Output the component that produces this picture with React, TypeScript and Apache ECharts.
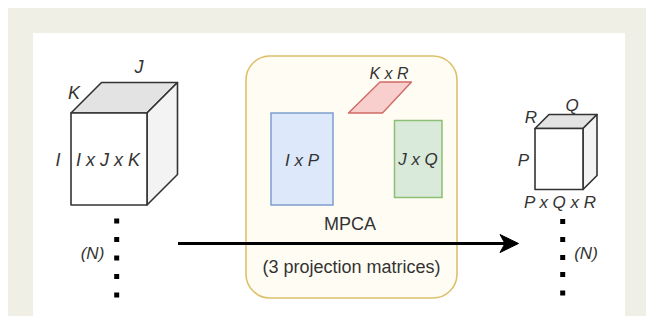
import React, { useEffect, useRef } from "react";
import * as echarts from "echarts";

const inputDims = ["I", "J", "K"];
const outputDims = ["P", "Q", "R"];
const inputLabel = "I x J x K";
const outputLabel = "P x Q x R";
const matrixLabels = ["I x P", "J x Q", "K x R"];
const boxTitle = "MPCA";
const boxSubtitle = "(3 projection matrices)";
const sampleLabel = "(N)";

const FONT = "'Liberation Sans', Arial, Helvetica, sans-serif";
const TXT = "#333333";

function txt(text: string, x: number, y: number, size: number, italic = true, color = TXT) {
  return {
    type: "text",
    x,
    y,
    z: 20,
    style: {
      text,
      fill: color,
      fontSize: size,
      fontFamily: FONT,
      fontStyle: italic ? "italic" : "normal",
      textAlign: "center",
      textVerticalAlign: "middle",
      align: "center",
      verticalAlign: "middle",
    },
  };
}

function cube(x0: number, y0: number, x1: number, y1: number, d: number) {
  const stroke = { stroke: "#333333", lineWidth: 1.6, lineJoin: "round" };
  return [
    {
      type: "polygon",
      z: 10,
      shape: { points: [[x0, y0], [x0 + d, y0 - d], [x1 + d, y0 - d], [x1, y0]] },
      style: { fill: "#e3e3e3", ...stroke },
    },
    {
      type: "polygon",
      z: 10,
      shape: { points: [[x1, y0], [x1 + d, y0 - d], [x1 + d, y1 - d], [x1, y1]] },
      style: { fill: "#f3f3f3", ...stroke },
    },
    {
      type: "rect",
      z: 11,
      shape: { x: x0, y: y0, width: x1 - x0, height: y1 - y0 },
      style: { fill: "#ffffff", ...stroke },
    },
  ];
}

function dots(cx: number, ys: number[]) {
  return ys.map((y) => ({
    type: "rect",
    z: 12,
    shape: { x: cx - 2.5, y: y - 2.5, width: 5, height: 5 },
    style: { fill: "#000000" },
  }));
}

export default function App() {
  const ref = useRef<HTMLDivElement>(null);
  useEffect(() => {
    document.body.style.margin = "0";
    if (!ref.current) return;
    const chart = echarts.init(ref.current, null, { renderer: "svg" });
    const elements: any[] = [
      { type: "rect", z: 0, shape: { x: 8, y: 8, width: 660, height: 330 }, style: { fill: "#efefe5" } },
      { type: "rect", z: 1, shape: { x: 33, y: 33, width: 592, height: 300 }, style: { fill: "#ffffff" } },
      // MPCA box
      {
        type: "rect",
        z: 2,
        shape: { x: 246, y: 56, width: 211, height: 242, r: 24 },
        style: { fill: "#fffdf3", stroke: "#dcc06c", lineWidth: 1.6 },
      },
      // matrices
      {
        type: "rect",
        z: 5,
        shape: { x: 271, y: 113, width: 62, height: 92 },
        style: { fill: "#dde9fb", stroke: "#7d9fd0", lineWidth: 1.5 },
      },
      {
        type: "rect",
        z: 5,
        shape: { x: 394.5, y: 120.5, width: 47.5, height: 77 },
        style: { fill: "#d9eada", stroke: "#8cbf73", lineWidth: 1.5 },
      },
      {
        type: "polygon",
        z: 5,
        shape: { points: [[348.5, 113], [382.5, 113], [411.5, 82], [380, 82]] },
        style: { fill: "#f8cfcd", stroke: "#d06a66", lineWidth: 1.4, lineJoin: "round" },
      },
      txt(matrixLabels[0], 302, 160, 17),
      txt(matrixLabels[1], 418, 159, 17),
      txt(matrixLabels[2], 389, 73, 16),
      txt(boxTitle, 350, 223.5, 18, false),
      txt(boxSubtitle, 351.5, 267, 18, false),
      // input cube
      ...cube(71, 113, 147, 205, 30.5),
      txt(inputDims[1], 139, 67, 18),
      txt(inputDims[2], 74, 93, 18),
      txt(inputDims[0], 58, 160, 18),
      txt(inputLabel, 108, 160, 18),
      // output cube
      ...cube(535, 128.5, 583, 189.5, 14),
      txt(outputDims[1], 572, 105, 17),
      txt(outputDims[2], 531, 117, 17),
      txt(outputDims[0], 523.5, 160, 17),
      txt(outputLabel, 560, 202, 17),
      // dots
      ...dots(116.7, [221, 239.5, 258, 276.5, 295]),
      ...dots(562.7, [221.5, 239.5, 257.5, 274.5, 293]),
      txt(sampleLabel, 92.5, 253, 17),
      txt(sampleLabel, 586, 253.5, 17),
      // arrow
      {
        type: "line",
        z: 15,
        shape: { x1: 178, y1: 243.5, x2: 506, y2: 243.5 },
        style: { stroke: "#000000", lineWidth: 3 },
      },
      {
        type: "polygon",
        z: 16,
        shape: { points: [[518.5, 243.5], [500, 234.5], [505, 243.5], [500, 252.5]] },
        style: { fill: "#000000", stroke: "#000000", lineWidth: 1, lineJoin: "miter" },
      },
    ];
    chart.setOption({ animation: false, graphic: { elements } });
    return () => chart.dispose();
  }, []);
  return <div ref={ref} style={{ width: 646, height: 316 }} />;
}
